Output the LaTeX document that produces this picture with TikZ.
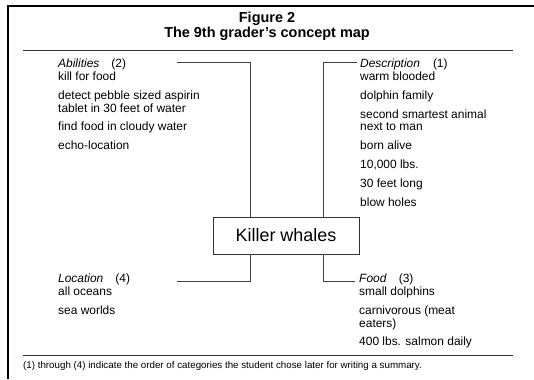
\documentclass[tikz,border=0pt]{standalone}
\usepackage{fontspec}
\setmainfont{Liberation Sans}
\begin{document}
\begin{tikzpicture}[x=1bp, y=-1bp,
        rule/.style={draw=black!80, line width=0.9bp},
        link/.style={draw=black!75, line width=0.8bp},
        block/.style={anchor=north west, align=left, inner sep=0pt, font=\fontsize{12}{13}\selectfont},
        whalebox/.style={draw=black!80, line width=0.9bp, minimum width=146bp, minimum height=37bp, inner sep=0pt, font=\fontsize{18}{20}\selectfont}]
    \useasboundingbox (0,0) rectangle (534,379);
    \draw[line width=2bp] (534,6) -- (8,6) -- (8,379);
    \node[font=\bfseries\fontsize{14.5}{13.5}\selectfont, align=center] (title) at (267,26.5) {Figure 2\\The 9th grader's concept map};
    \draw[rule] (23,50) -- (513,50);
    \draw[rule] (23,355) -- (513,355);
    \node[whalebox] (whales) at (286,235.5) {Killer whales};
    \node[block] (abil) at (58,58.3) {\textit{Abilities}\hspace{12bp}(2)\\kill for food\\[6bp]detect pebble sized aspirin\\tablet in 30 feet of water\\[6bp]find food in cloudy water\\[6bp]echo-location};
    \node[block] (desc) at (360,58.3) {\textit{Description}\hspace{13bp}(1)\\warm blooded\\[6bp]dolphin family\\[6bp]second smartest animal\\next to man\\[6bp]born alive\\[6bp]10,000 lbs.\\[6bp]30 feet long\\[6bp]blow holes};
    \node[block] (loc) at (58,273.3) {\textit{Location}\hspace{12bp}(4)\\all oceans\\[6bp]sea worlds};
    \node[block] (food) at (359,273.3) {\textit{Food}\hspace{12bp}(3)\\small dolphins\\[6bp]carnivorous (meat\\eaters)\\[6bp]400 lbs. salmon daily};
    \coordinate (abilend) at (177,62);
    \coordinate (descend) at (357,62);
    \coordinate (locend) at (177,281);
    \coordinate (foodend) at (355,281);
    \draw[link] ([xshift=-36bp]whales.north) |- (abilend);
    \draw[link] ([xshift=37bp]whales.north) |- (descend);
    \draw[link] ([xshift=-36bp]whales.south) |- (locend);
    \draw[link] ([xshift=37bp]whales.south) |- (foodend);
    \node[anchor=base west, inner sep=0pt, font=\fontsize{9.8}{11}\selectfont] (note) at (23,368) {(1) through (4) indicate the order of categories the student chose later for writing a summary.};
\end{tikzpicture}
\end{document}
